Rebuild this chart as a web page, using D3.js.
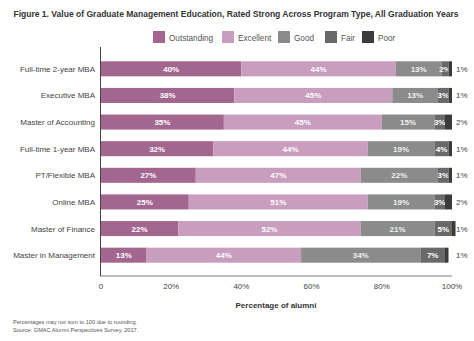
<!DOCTYPE html>
<html>
<head>
<meta charset="utf-8">
<script src="https://cdn.jsdelivr.net/npm/d3@7"></script>
<style>
  body { margin: 0; background: #fff; }
  svg { font-family: "Liberation Sans", Arial, sans-serif; }
</style>
</head>
<body>
<svg id="chart" width="474" height="341"></svg>
<script>
// program types, top to bottom
const programs = ['Full-time 2-year MBA', 'Executive MBA', 'Master of Accounting', 'Full-time 1-year MBA',
  'PT/Flexible MBA', 'Online MBA', 'Master of Finance', 'Master in Management'];
const ratings = ['Outstanding', 'Excellent', 'Good', 'Fair', 'Poor'];
const outstanding = [40, 38, 35, 32, 27, 25, 22, 13];
const excellent = [44, 45, 45, 44, 47, 51, 52, 44];
const good = [13, 13, 15, 19, 22, 19, 21, 34];
const fair = [2, 3, 3, 4, 3, 3, 5, 7];
const poor = [1, 1, 2, 1, 1, 2, 1, 1];
const ticks = [0, 20, 40, 60, 80, 100];
const colors = ['#a3668f', '#c89dbd', '#8b8b8b', '#696969', '#3b3b3b'];

const rows = programs.map((p, i) => ({
  program: p,
  Outstanding: outstanding[i], Excellent: excellent[i], Good: good[i], Fair: fair[i], Poor: poor[i]
}));

var svg = d3.select('#chart');

var x = d3.scaleLinear().domain([0, 100]).range([101, 452]);
var y = d3.scaleBand().domain(programs).range([48, 276]).paddingInner(0.435).paddingOuter(0.5);
var color = d3.scaleOrdinal().domain(ratings).range(colors);

var stack = d3.stack().keys(ratings)(rows);

// title - shrink font until it fits the width the original uses
var title = svg.append('text')
  .attr('x', 236).attr('y', 17)
  .attr('text-anchor', 'middle')
  .attr('font-size', 9).attr('font-weight', 'bold').attr('fill', '#333')
  .text('Figure 1. Value of Graduate Management Education, Rated Strong Across Program Type, All Graduation Years');
var tw = title.node().getComputedTextLength();
if (tw > 446) title.attr('font-size', 9 * 446 / tw);

// legend
var legendX = [153, 222, 278, 325, 362];
var legend = svg.append('g').selectAll('g')
  .data(ratings)
  .enter()
  .append('g')
  .attr('transform', (d, i) => 'translate(' + legendX[i] + ',31)');
legend.append('rect').attr('width', 12).attr('height', 12).attr('fill', d => color(d));
legend.append('text')
  .attr('x', 16).attr('y', 10)
  .attr('font-size', 8.2).attr('fill', '#555')
  .text(d => d);

// bars
var layer = svg.append('g').selectAll('g')
  .data(stack)
  .enter()
  .append('g')
  .attr('fill', d => color(d.key));

layer.selectAll('rect')
  .data(d => d)
  .enter()
  .append('rect')
  .attr('x', d => x(d[0]))
  .attr('y', d => y(d.data.program))
  .attr('width', d => x(d[1]) - x(d[0]))
  .attr('height', y.bandwidth());

// value labels (Poor goes outside the bar, at a fixed column)
layer.each(function(s) {
  var key = s.key;
  d3.select(this).selectAll('text')
    .data(s)
    .enter()
    .append('text')
    .attr('x', d => key === 'Poor' ? x(100) + 4 : (x(d[0]) + x(d[1])) / 2)
    .attr('y', d => y(d.data.program) + y.bandwidth() / 2 + 3)
    .attr('text-anchor', key === 'Poor' ? 'start' : 'middle')
    .attr('font-size', 8)
    .attr('font-weight', key === 'Poor' ? 'normal' : 'bold')
    .attr('fill', key === 'Poor' ? '#444' : (key === 'Good' ? '#f0f0f0' : '#fff'))
    .text(d => (d[1] - d[0]) + '%');
});

// category labels
svg.append('g').selectAll('text')
  .data(programs)
  .enter()
  .append('text')
  .attr('x', 95)
  .attr('y', d => y(d) + y.bandwidth() / 2 + 3)
  .attr('text-anchor', 'end')
  .attr('font-size', 8).attr('fill', '#444')
  .text(d => d);

// axes lines
svg.append('line')
  .attr('x1', 100).attr('x2', 452).attr('y1', 276).attr('y2', 276)
  .attr('stroke', '#aaa').attr('stroke-width', 1.5);
svg.append('line')
  .attr('x1', 100.5).attr('x2', 100.5).attr('y1', 47).attr('y2', 276)
  .attr('stroke', '#444').attr('stroke-width', 1);

// x tick labels
svg.append('g').selectAll('text')
  .data(ticks)
  .enter()
  .append('text')
  .attr('x', d => x(d))
  .attr('y', 289)
  .attr('text-anchor', 'middle')
  .attr('font-size', 8).attr('fill', '#444')
  .text(d => d === 0 ? '0' : d + '%');

svg.append('text')
  .attr('x', 276).attr('y', 308)
  .attr('text-anchor', 'middle')
  .attr('font-size', 8).attr('font-weight', 'bold').attr('fill', '#333')
  .text('Percentage of alumni');

// notes
svg.append('text')
  .attr('x', 13).attr('y', 324)
  .attr('font-size', 5.6).attr('fill', '#555')
  .text('Percentages may not sum to 100 due to rounding.');
svg.append('text')
  .attr('x', 13).attr('y', 332)
  .attr('font-size', 5.6).attr('fill', '#555')
  .text('Source: GMAC Alumni Perspectives Survey, 2017.');
</script>
</body>
</html>
